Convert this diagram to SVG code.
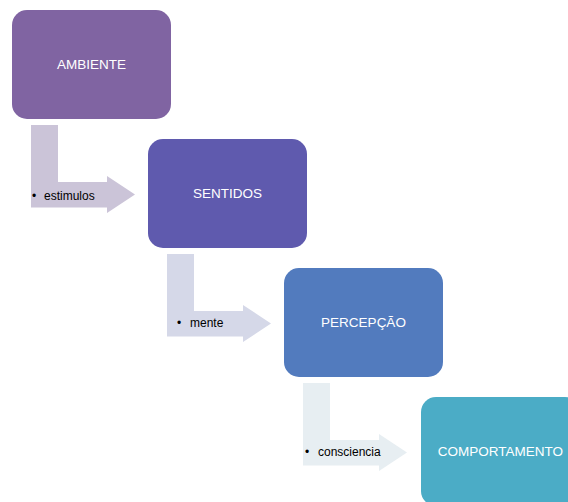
<svg xmlns="http://www.w3.org/2000/svg" width="568" height="502" viewBox="0 0 568 502">
<style>
.box{stroke:none}
.bt{font-family:"Liberation Sans",Arial,sans-serif;font-size:13.5px;fill:#ffffff;text-anchor:middle}
.lt{font-family:"Liberation Sans",Arial,sans-serif;font-size:12px;fill:#000000}
</style>
<rect width="568" height="502" fill="#ffffff"/>
<g id="connectors">
<g id="arrow1">
<path d="M31,125 H58 V182 H107 V176 L135,194.5 L107,213 V207.5 H31 Z" fill="#CBC4D8"/>
<text class="lt" x="32" y="200">•</text>
<text class="lt" x="44" y="200">estimulos</text>
</g>
<g id="arrow2">
<path d="M167,254 H194 V311 H243 V305 L271,323.5 L243,342 V336.5 H167 Z" fill="#D5D8E8"/>
<text class="lt" x="177" y="327">•</text>
<text class="lt" x="190" y="327">mente</text>
</g>
<g id="arrow3">
<path d="M303,383 H330 V440 H379 V434 L407,452.5 L379,471 V465.5 H303 Z" fill="#E7EEF2"/>
<text class="lt" x="305" y="456">•</text>
<text class="lt" x="318" y="456">consciencia</text>
</g>
</g>
<g id="ambiente">
<rect class="box" x="12" y="10" width="159" height="109" rx="15" fill="#8064A2"/>
<text class="bt" x="91.5" y="69">AMBIENTE</text>
</g>
<g id="sentidos">
<rect class="box" x="148" y="139" width="159" height="109" rx="15" fill="#5F5AAE"/>
<text class="bt" x="227.5" y="198">SENTIDOS</text>
</g>
<g id="percepcao">
<rect class="box" x="284" y="268" width="159" height="109" rx="15" fill="#527BBE"/>
<text class="bt" x="363.5" y="327">PERCEPÇÃO</text>
</g>
<g id="comportamento">
<rect class="box" x="421" y="397" width="159" height="109" rx="15" fill="#4BACC6"/>
<text class="bt" x="500.5" y="456">COMPORTAMENTO</text>
</g>
</svg>
